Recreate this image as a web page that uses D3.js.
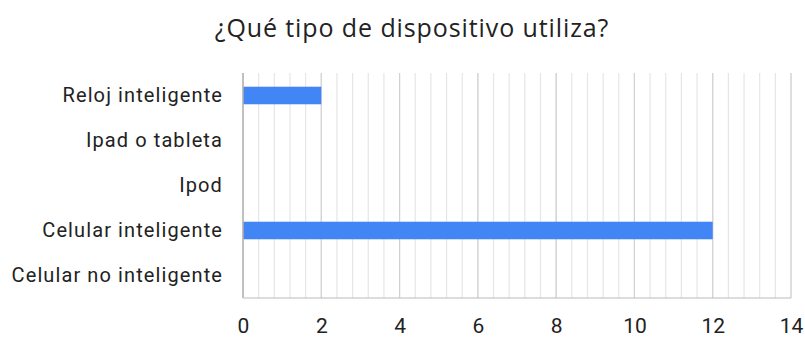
<!DOCTYPE html>
<html>
<head>
<meta charset="utf-8">
<script src="https://cdn.jsdelivr.net/npm/d3@7"></script>
<style>
  body { margin: 0; background: #fff; }
  svg { display: block; }
</style>
</head>
<body>
<svg id="chart" width="805" height="338"></svg>
<script>
// Survey answers: device type used
const categories = ["Reloj inteligente", "Ipad o tableta", "Ipod", "Celular inteligente", "Celular no inteligente"];
const values = [2, 0, 0, 12, 0];
const xTicks = [0, 2, 4, 6, 8, 10, 12, 14];
const title = "¿Qué tipo de dispositivo utiliza?";

const svg = d3.select("#chart");
const margin = { left: 243, right: 14, top: 73, bottom: 40 };
const W = 805, H = 338;

const x = d3.scaleLinear().domain([0, 14]).range([margin.left, W - margin.right]);
const y = d3.scaleBand().domain(categories).range([margin.top, H - margin.bottom]).paddingInner(0.61).paddingOuter(0.305);

// minor gridlines every 0.4, major at labelled ticks
const minor = d3.range(0, 14.0001, 0.4);
svg.append("g").selectAll("line").data(minor).join("line")
  .attr("x1", d => x(d)).attr("x2", d => x(d))
  .attr("y1", margin.top).attr("y2", H - margin.bottom)
  .attr("stroke", "#e6e6e6").attr("stroke-width", 1.2);
svg.append("g").selectAll("line").data(xTicks.slice(1)).join("line")
  .attr("x1", d => x(d)).attr("x2", d => x(d))
  .attr("y1", margin.top).attr("y2", H - margin.bottom)
  .attr("stroke", "#d2d2d2").attr("stroke-width", 1.2);

// bars
svg.append("g").selectAll("rect").data(categories.map((c, i) => ({ c, v: values[i] })).filter(d => d.v > 0))
  .join("rect")
  .attr("x", x(0)).attr("y", d => y(d.c))
  .attr("width", d => x(d.v) - x(0)).attr("height", y.bandwidth())
  .attr("fill", "#4285f4");

// baseline axes
svg.append("line").attr("x1", x(0)).attr("x2", x(0))
  .attr("y1", margin.top).attr("y2", H - margin.bottom)
  .attr("stroke", "#b0b0b0").attr("stroke-width", 1.5);
svg.append("line").attr("x1", x(0)).attr("x2", x(14))
  .attr("y1", H - margin.bottom).attr("y2", H - margin.bottom)
  .attr("stroke", "#bbb").attr("stroke-width", 1.2);

// x tick labels
const xAxis = d3.axisBottom(x).tickValues(xTicks).tickSize(0).tickPadding(20);
const gx = svg.append("g").attr("transform", `translate(0,${H - margin.bottom})`).call(xAxis);
gx.select(".domain").remove();
gx.selectAll("text").attr("font-family", "Roboto, sans-serif").attr("font-size", 21).attr("fill", "#222");

// category labels
const yAxis = d3.axisLeft(y).tickSize(0).tickPadding(20);
const gy = svg.append("g").attr("transform", `translate(${margin.left},0)`).call(yAxis);
gy.select(".domain").remove();
gy.selectAll("text").attr("font-family", "Roboto, sans-serif").attr("font-size", 20)
  .attr("letter-spacing", 1.1).attr("fill", "#222");

// title
svg.append("text").attr("x", 412).attr("y", 37).attr("text-anchor", "middle")
  .attr("font-family", "'Open Sans', sans-serif").attr("font-size", 25)
  .attr("letter-spacing", 0.9).attr("fill", "#222")
  .text(title);
</script>
</body>
</html>
